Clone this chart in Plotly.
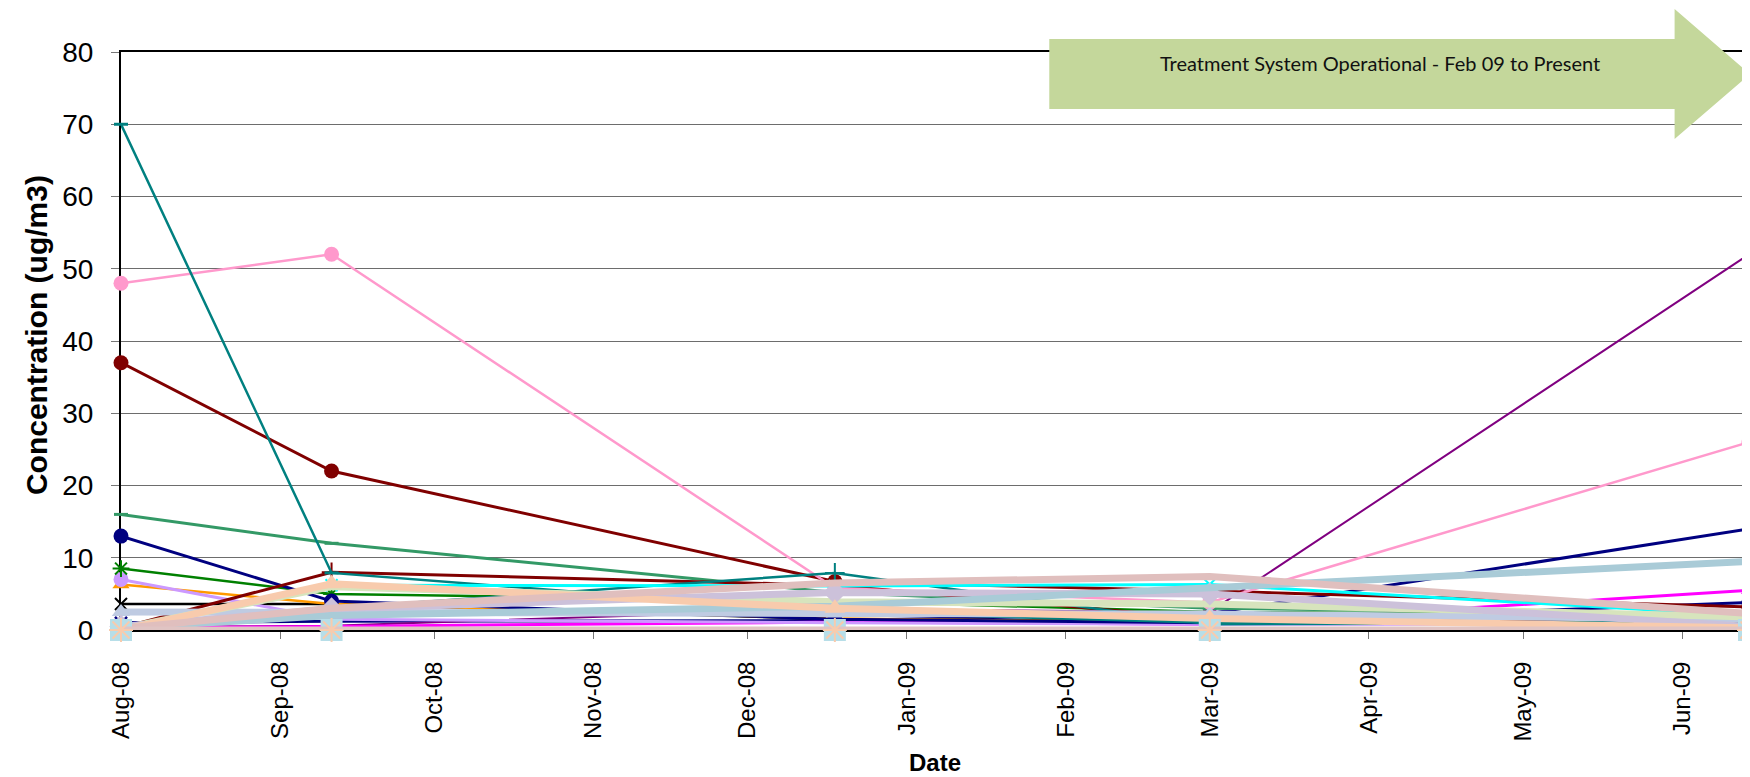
import plotly.graph_objects as go

# ---- data ----
sample_dates = ["2008-08-01", "2008-09-11", "2008-12-18", "2009-03-01", "2009-06-14"]
tick_dates = ["2008-08-01", "2008-09-01", "2008-10-01", "2008-11-01", "2008-12-01", "2009-01-01",
              "2009-02-01", "2009-03-01", "2009-04-01", "2009-05-01", "2009-06-01"]
tick_labels = ["Aug-08", "Sep-08", "Oct-08", "Nov-08", "Dec-08", "Jan-09",
               "Feb-09", "Mar-09", "Apr-09", "May-09", "Jun-09"]
y_ticks = [0, 10, 20, 30, 40, 50, 60, 70, 80]

teal_dash = [70, 7.9, 2.5, 1.0, 1.2]
teal_plus = [0.2, 3.0, 7.9, 0.8, 1.0]
pink_circle = [48, 52, 5.8, 3.8, 26]
darkred_circle = [37, 22, 6.7, 5.4, 3.2]
seagreen_dash = [16, 12, 5.2, 3.0, 2.2]
navy_circle = [13, 4.0, 1.5, 1.0, 3.8]
green_star = [8.5, 5.0, 4.0, 2.5, 2.0]
lavender_circle = [7.0, 1.5, 1.0, 0.8, 0.8]
orange_triangle = [6.3, 3.6, 1.6, 1.0, 1.5]
black_x = [3.6, 3.6, 1.5, 1.2, 1.0]
darkred_plus = [0.3, 8.0, 6.2, 1.5, 1.0]
purple_line = [0.4, 0.6, 2.9, 2.5, 52]
navy_x = [1.0, 1.2, 1.3, 2.3, 14]
magenta_triangle = [0.3, 0.5, 1.1, 0.8, 5.5]
cyan_line = [None, 6.2, 6.1, 6.3, 2.0]
lightblue_thick = [0.3, 2.0, 3.3, 5.8, 9.5]
rosy_thick = [0.2, 3.0, 6.5, 7.4, 2.3]
peach_triangle = [0.0, 6.4, 3.0, 1.6, 0.3]
lightgreen_thick = [0.2, 6.0, 3.9, 3.6, 1.8]
lavgray_diamond = [0.5, 2.9, 5.2, 5.0, 0.5]
steelblue_thick = [2.5, 2.5, 2.3, 2.2, 1.5]
lightblue_square = [0, 0, 0, 0, 0]
rosy_zero = [0, 0, 0, 0, 0]
peach_star = [0, 0, 0, 0, 0]

# ---- styles (drawing order = list order) ----
series = [
    (navy_x, "#000080", 3, "x-thin", 12, 2.5),
    (purple_line, "#800080", 2, "circle", 14, 0),
    (magenta_triangle, "#FF00FF", 3, "triangle-up", 14, 0),
    (black_x, "#000000", 2.5, "x-thin", 12, 2),
    (orange_triangle, "#FF9900", 2.5, "triangle-up", 15, 0),
    (lavender_circle, "#CC99FF", 3, "circle", 15, 0),
    (green_star, "#008000", 2.5, "asterisk", 14, 2),
    (navy_circle, "#000080", 3, "circle", 15, 0),
    (seagreen_dash, "#339966", 3, "line-ew", 10, 3),
    (darkred_plus, "#800000", 3, "cross-thin", 14, 2),
    (darkred_circle, "#800000", 3, "circle", 15, 0),
    (pink_circle, "#FF99CC", 2.5, "circle", 15, 0),
    (teal_plus, "#008080", 2.5, "cross-thin", 14, 2),
    (teal_dash, "#008080", 2.5, "line-ew", 10, 3),
    (cyan_line, "#00FFFF", 3, "x-thin", 12, 2),
    (steelblue_thick, "#BFCBE2", 7, "triangle-up", 16, 0),
    (lightgreen_thick, "#D7E4BD", 7, "circle", 1, 0),
    (lavgray_diamond, "#CCC1DA", 7, "diamond", 18, 0),
    (lightblue_thick, "#A9CBD7", 7, "circle", 1, 0),
    (peach_triangle, "#F8CBAD", 7, "triangle-up", 18, 0),
    (rosy_thick, "#E0BFBE", 7, "circle", 1, 0),
    (lightblue_square, "#B7DEE8", 6, "square", 22, 0),
    (rosy_zero, "#E0C4C3", 7, "circle", 1, 0),
    (peach_star, "#F8CBAD", 0, "asterisk", 20, 2),
]

fig = go.Figure()
for vals, color, lw, sym, msize, mlw in series:
    marker = dict(symbol=sym, size=msize, color=color)
    if mlw:
        marker["line"] = dict(color=color, width=mlw)
    fig.add_trace(go.Scatter(
        x=sample_dates, y=vals,
        mode="lines+markers" if lw > 0 else "markers",
        line=dict(color=color, width=lw if lw > 0 else 1),
        marker=marker, cliponaxis=False, showlegend=False,
        connectgaps=False,
    ))

# layout geometry (pixels)
L, R, T, B = 113, 7, 44, 155
PW, PH = 1750 - L - R, 777 - T - B


def px(x):
    return (x - L) / PW


def py(y):
    return (777 - B - y) / PH


# treatment arrow (paper coordinates)
xb, xh, xt = px(1042.5), px(1668.5), px(1744)
yb1, yb2, yh1, yh2, ym = py(31), py(101), py(1), py(131), py(66)
fig.add_shape(
    type="path", xref="paper", yref="paper",
    path=(f"M {xb:.4f},{yb1:.4f} L {xh:.4f},{yb1:.4f} L {xh:.4f},{yh1:.4f} "
          f"L {xt:.4f},{ym:.4f} L {xh:.4f},{yh2:.4f} L {xh:.4f},{yb2:.4f} "
          f"L {xb:.4f},{yb2:.4f} Z"),
    fillcolor="#C4D79B", line=dict(width=0), layer="above",
)
fig.add_annotation(
    xref="paper", yref="paper", x=px(1373.5), y=py(55), showarrow=False,
    xanchor="center", yanchor="middle",
    text="Treatment System Operational - Feb 09 to Present",
    font=dict(family="Lato", size=20, color="#111111"),
)
# y-axis title
fig.add_annotation(
    xref="paper", yref="paper", x=px(28), y=py(327), showarrow=False,
    xanchor="center", yanchor="middle", textangle=-90,
    text="<b>Concentration (ug/m3)</b>",
    font=dict(family="Liberation Sans", size=30, color="black"),
)

fig.update_layout(
    width=1750, height=777,
    margin=dict(l=L, r=R, t=T, b=B),
    paper_bgcolor="white", plot_bgcolor="white",
    showlegend=False,
    font=dict(family="Liberation Sans", color="black"),
)
fig.update_xaxes(
    type="date", range=[sample_dates[0], sample_dates[-1]],
    tickvals=tick_dates, ticktext=tick_labels, tickangle=-90,
    tickfont=dict(family="Liberation Sans", size=24, color="black"),
    ticks="outside", ticklen=7, tickcolor="#777777", tickwidth=1,
    ticklabelstandoff=13,
    showgrid=False, zeroline=False,
    showline=True, linecolor="black", linewidth=2, mirror=True,
    layer="below traces",
    title=dict(text="<b>Date</b>", font=dict(family="Liberation Sans", size=24, color="black"),
               standoff=14),
)
fig.update_yaxes(
    range=[0, 80], tickvals=y_ticks,
    tickfont=dict(family="Liberation Sans", size=28, color="black"),
    ticks="outside", ticklen=8, tickcolor="#777777", tickwidth=1,
    ticklabelstandoff=12,
    showgrid=True, gridcolor="#6d6d6d", gridwidth=1, zeroline=False,
    showline=True, linecolor="black", linewidth=2, mirror=True,
    layer="below traces",
)

fig.write_html("out.html")
